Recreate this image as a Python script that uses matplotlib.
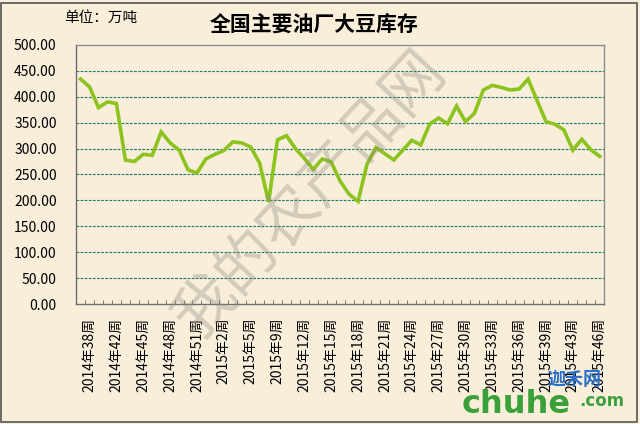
import matplotlib
matplotlib.use('Agg')
import matplotlib.pyplot as plt
import numpy as np

plt.rcParams['font.family'] = ['Noto Sans CJK SC', 'DejaVu Sans']

title = '全国主要油厂大豆库存'
unit = '单位：万吨'

stock = [434, 419, 379, 390, 387, 278, 275, 289, 287, 332,
         311, 297, 259, 253, 280, 289, 296, 313, 311, 303,
         272, 197, 317, 325, 300, 281, 260, 280, 274, 237,
         212, 198, 270, 302, 290, 278, 297, 316, 307, 347,
         359, 348, 382, 352, 368, 413, 422, 418, 413, 415,
         434, 393, 352, 347, 336, 297, 318, 298, 285]

week_labels = ['2014年38周', '2014年42周', '2014年45周', '2014年48周', '2014年51周',
               '2015年2周', '2015年5周', '2015年9周', '2015年12周', '2015年15周',
               '2015年18周', '2015年21周', '2015年24周', '2015年27周', '2015年30周',
               '2015年33周', '2015年36周', '2015年39周', '2015年43周', '2015年46周']
label_index = list(range(1, len(stock), 3))

y_ticks = list(range(0, 501, 50))


def chart():
    bg = '#F8EEDA'
    fig = plt.figure(figsize=(6.4, 4.24), dpi=100, facecolor=bg)
    ax = fig.add_axes([0.119, 0.283, 0.825, 0.611])
    ax.set_facecolor(bg)

    x = np.arange(len(stock))
    for v in y_ticks[1:-1]:
        ax.axhline(v, color='#1F7F66', lw=0.8, ls=(0, (2.5, 1.2)), zorder=1)
    ax.plot(x, stock, color='#8CC31E', lw=2.6, solid_joinstyle='miter', zorder=3)

    ax.set_xlim(-0.5, len(stock) - 0.5)
    ax.set_ylim(0, 500)
    ax.set_yticks(y_ticks)
    ax.set_yticklabels(['%.2f' % v for v in y_ticks], fontsize=10)
    ax.tick_params(axis='y', length=0, pad=14)

    ax.set_xticks(label_index)
    ax.set_xticklabels(week_labels, rotation=90, fontsize=10)
    ax.set_xticks(np.arange(-0.5, len(stock), 1), minor=True)
    ax.tick_params(axis='x', which='major', length=0, pad=10)
    ax.tick_params(axis='x', which='minor', direction='in', length=3, color='#666666')

    for s in ax.spines.values():
        s.set_color('#8C8C8C')
        s.set_linewidth(1)
    ax.spines['left'].set_color('#6E6E6E')
    ax.spines['bottom'].set_color('#6E6E6E')

    fig.text(0.49, 0.943, title, fontsize=15, fontweight='bold', ha='center', va='center')
    fig.text(0.10, 0.957, unit, fontsize=10.5, ha='left', va='center')

    # watermarks
    fig.text(0.485, 0.54, '我的农产品网', fontsize=44, color='#8F8A80', alpha=0.35,
             rotation=47, ha='center', va='center')
    fig.text(0.722, 0.045, 'chuhe', fontsize=23, color='#3AA03A', fontweight='bold',
             ha='left', va='center', family='DejaVu Sans')
    fig.text(0.905, 0.055, '.com', fontsize=12, color='#3AA03A', fontweight='bold',
             ha='left', va='center', family='DejaVu Sans')
    fig.text(0.856, 0.105, '迦禾网', fontsize=13, color='#2A6FC8', fontweight='bold',
             style='italic', ha='left', va='center')

    fig.patches.append(plt.Rectangle((0.002, 0.004), 0.993, 0.99, transform=fig.transFigure,
                                     fill=False, ec='#555555', lw=1.2))
    fig.savefig('out.png', dpi=100, facecolor=bg)


if __name__ == '__main__':
    chart()
